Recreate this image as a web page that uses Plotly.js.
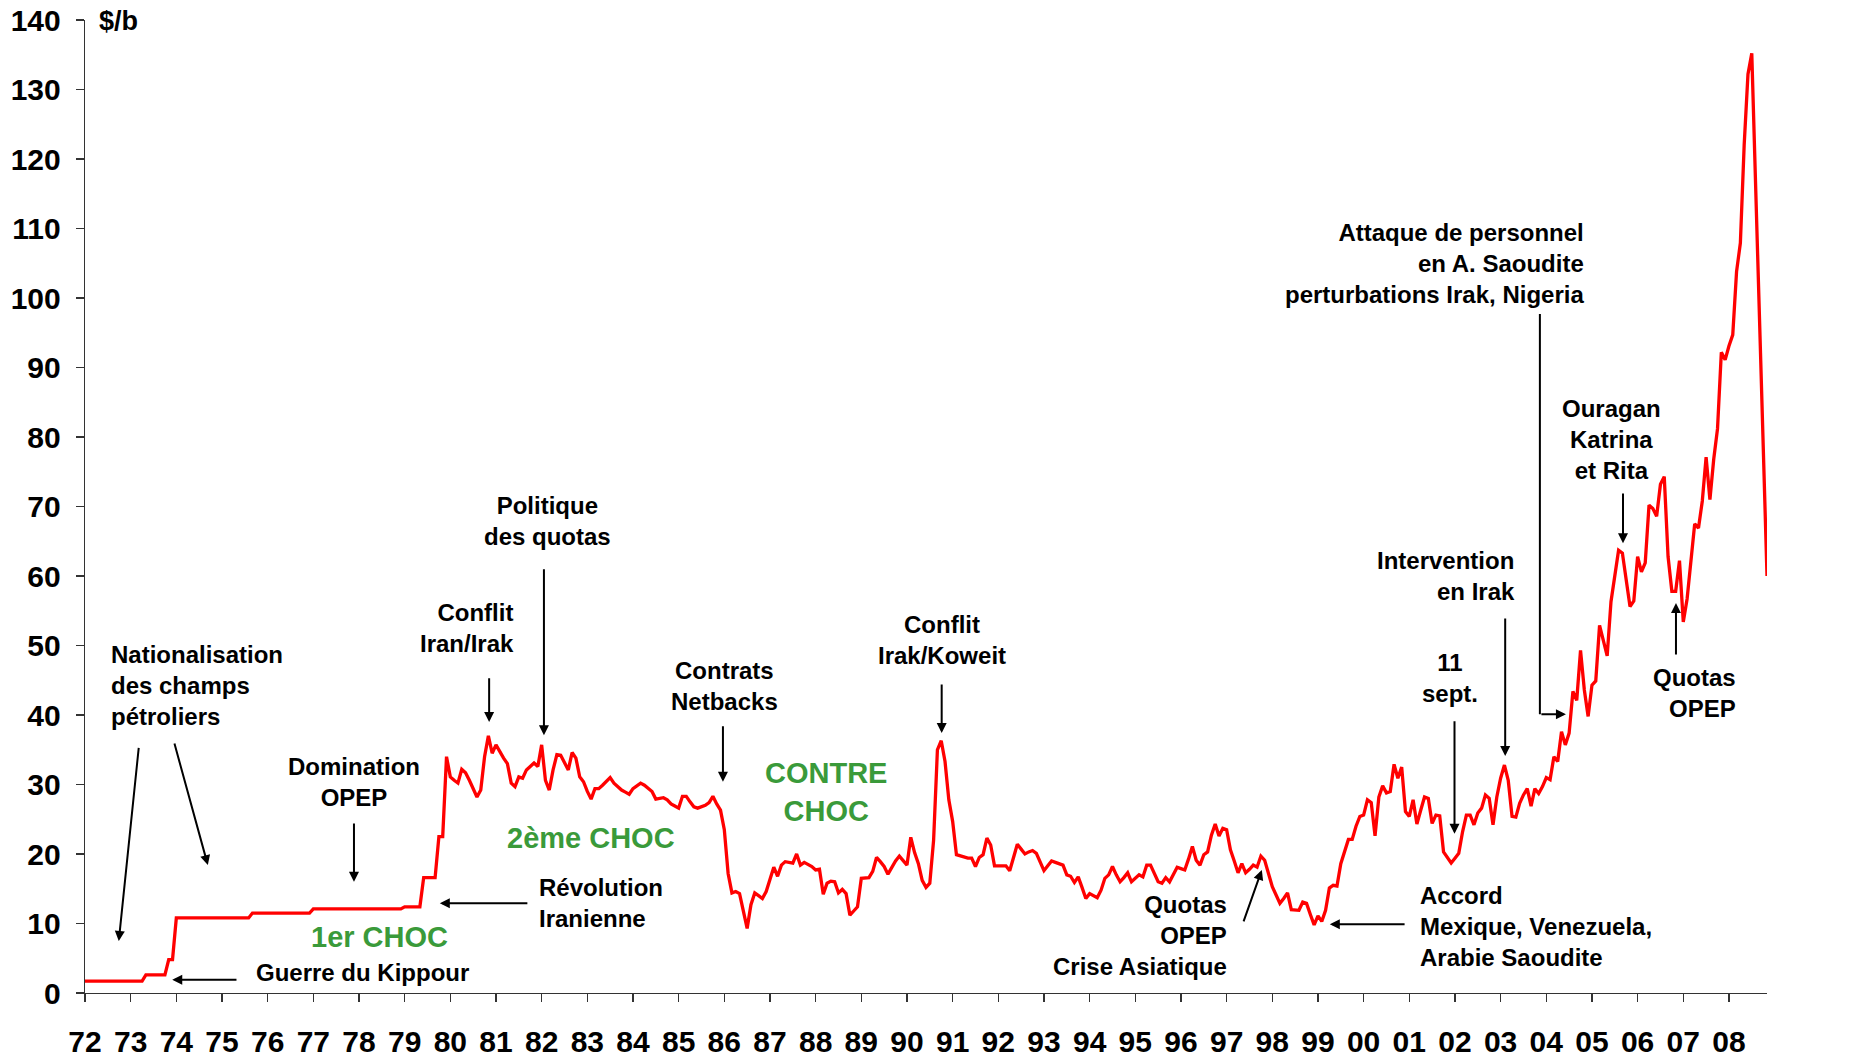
<!DOCTYPE html>
<html>
<head>
<meta charset="utf-8">
<script src="https://cdn.plot.ly/plotly-3.0.1.min.js"></script>
<style>html,body{margin:0;padding:0;background:#fff;}#chart{width:1851px;height:1057px;}</style>
</head>
<body>
<div id="chart"></div>
<script>
// Monthly oil price ($/b), January to December of each year
const p1972 = [1.7,1.7,1.7,1.7,1.7,1.7,1.7,1.7,1.7,1.7,1.7,1.7];
const p1973 = [1.7,1.7,1.7,1.7,2.6,2.6,2.6,2.6,2.6,2.6,4.8,4.8];
const p1974 = [10.8,10.8,10.8,10.8,10.8,10.8,10.8,10.8,10.8,10.8,10.8,10.8];
const p1975 = [10.8,10.8,10.8,10.8,10.8,10.8,10.8,10.8,11.5,11.5,11.5,11.5];
const p1976 = [11.5,11.5,11.5,11.5,11.5,11.5,11.5,11.5,11.5,11.5,11.5,11.5];
const p1977 = [12.1,12.1,12.1,12.1,12.1,12.1,12.1,12.1,12.1,12.1,12.1,12.1];
const p1978 = [12.1,12.1,12.1,12.1,12.1,12.1,12.1,12.1,12.1,12.1,12.1,12.1];
const p1979 = [12.4,12.4,12.4,12.4,12.4,16.6,16.6,16.6,16.6,22.5,22.5,34.0];
const p1980 = [31.1,30.6,30.2,32.2,31.7,30.6,29.4,28.2,29.2,34.0,37.0,34.5];
const p1981 = [35.7,34.7,33.8,33.0,30.2,29.7,31.1,30.9,32.1,32.6,33.1,32.6];
const p1982 = [35.7,30.6,29.2,32.1,34.3,34.2,33.2,32.1,34.6,33.8,31.1,30.4];
const p1983 = [29.0,27.9,29.4,29.4,29.9,30.5,31.0,30.2,29.7,29.2,28.9,28.6];
const p1984 = [29.4,29.8,30.2,29.9,29.4,29.0,27.9,28.0,28.1,27.8,27.2,26.9];
const p1985 = [26.6,28.3,28.3,27.5,26.8,26.6,26.8,27.0,27.4,28.3,27.2,26.3];
const p1986 = [23.5,17.2,14.4,14.6,14.3,12.0,9.3,12.7,14.4,14.0,13.6,14.6];
const p1987 = [16.5,18.1,16.8,18.4,18.9,18.8,18.7,20.0,18.4,18.8,18.5,18.2];
const p1988 = [17.7,17.8,14.2,15.8,16.1,16.0,14.4,14.9,14.3,11.2,11.8,12.4];
const p1989 = [16.5,16.5,16.6,17.5,19.5,18.9,18.2,17.1,18.1,19.0,19.7,19.0];
const p1990 = [18.4,22.4,20.2,18.6,16.2,15.2,15.8,22.0,35.0,36.3,33.3,27.8];
const p1991 = [24.7,19.9,19.7,19.5,19.4,19.4,18.2,19.5,19.9,22.3,21.3,18.3];
const p1992 = [18.3,18.3,18.3,17.6,19.5,21.4,20.7,20.0,20.3,20.5,20.1,18.8];
const p1993 = [17.6,18.3,19.0,18.8,18.6,18.4,17.0,16.8,15.9,16.7,15.2,13.6];
const p1994 = [14.3,14.0,13.7,14.8,16.5,17.0,18.2,17.0,16.0,16.6,17.3,16.0];
const p1995 = [16.5,17.0,16.7,18.4,18.4,17.2,16.0,15.8,16.6,16.0,17.0,18.1];
const p1996 = [17.9,17.7,19.3,21.1,19.1,18.4,19.9,20.3,22.7,24.3,22.6,23.7];
const p1997 = [23.5,20.6,19.0,17.3,18.6,17.3,17.8,18.4,18.1,19.7,19.1,17.2];
const p1998 = [15.3,14.1,12.9,13.6,14.4,12.0,11.9,11.9,13.1,12.9,11.3,9.8];
const p1999 = [11.1,10.3,11.9,15.1,15.5,15.4,18.6,20.2,22.1,22.1,24.0,25.4];
const p2000 = [25.6,27.8,27.4,22.6,28.2,29.8,28.8,29.0,32.9,30.9,32.5,26.1];
const p2001 = [25.4,27.8,24.3,26.3,28.2,28.0,24.4,25.6,25.5,20.3,19.4,18.7];
const p2002 = [19.4,20.1,23.2,25.6,25.6,24.2,25.9,26.6,28.5,28.0,24.2,28.2];
const p2003 = [30.9,32.8,30.6,25.4,25.3,27.3,28.5,29.4,26.9,29.4,28.7,29.7];
const p2004 = [31.0,30.7,34.0,33.3,37.6,35.7,37.4,43.4,42.1,49.3,43.6,39.8];
const p2005 = [44.3,44.9,52.9,50.7,48.5,56.3,59.9,63.7,63.3,59.0,55.6,56.4];
const p2006 = [62.8,60.6,61.9,70.2,69.7,68.6,73.2,74.3,62.8,57.8,57.8,62.2];
const p2007 = [53.4,56.7,62.2,67.5,66.9,70.8,77.1,71.0,76.8,81.2,92.2,91.1];
const p2008 = [93.1,94.7,103.8,107.9,122.0,132.2,135.2,116.0,97.0,78.0,60.0];

const years = [1972,1973,1974,1975,1976,1977,1978,1979,1980,1981,1982,1983,1984,1985,1986,1987,1988,1989,
  1990,1991,1992,1993,1994,1995,1996,1997,1998,1999,2000,2001,2002,2003,2004,2005,2006,2007,2008];
const yearData = [p1972,p1973,p1974,p1975,p1976,p1977,p1978,p1979,p1980,p1981,p1982,p1983,p1984,p1985,p1986,p1987,p1988,p1989,
  p1990,p1991,p1992,p1993,p1994,p1995,p1996,p1997,p1998,p1999,p2000,p2001,p2002,p2003,p2004,p2005,p2006,p2007,p2008];
const tickLabels = ['72','73','74','75','76','77','78','79','80','81','82','83','84','85','86','87','88','89',
  '90','91','92','93','94','95','96','97','98','99','00','01','02','03','04','05','06','07','08'];
const yTicks = [0,10,20,30,40,50,60,70,80,90,100,110,120,130,140];

const xs = [], ys = [];
years.forEach((yr, i) => {
  yearData[i].forEach((v, m) => { xs.push(yr + m / 12); ys.push(v); });
});
const xEnd = xs[xs.length - 1];

const FONT = 'Liberation Sans, Arial, Helvetica, sans-serif';
const GREEN = '#3a9a3a';

function txt(x, y, text, xanchor, opts) {
  opts = opts || {};
  return {
    x: x, y: y, xref: 'x', yref: 'y', text: text, showarrow: false,
    xanchor: xanchor, yanchor: 'middle', align: xanchor === 'middle' ? 'center' : xanchor,
    font: {family: FONT, size: opts.size || 24, color: opts.color || '#000'}
  };
}
function arrow(x, y, ax, ay) {
  return {
    x: x, y: y, ax: ax, ay: ay, xref: 'x', yref: 'y', axref: 'x', ayref: 'y',
    text: '', showarrow: true, arrowhead: 2, arrowsize: 1.0, arrowwidth: 2,
    arrowcolor: '#000', standoff: 0, startstandoff: 0
  };
}

const annotations = [
  txt(1972.26, 139.9, '<b>$/b</b>', 'left', {size: 27}),
  txt(1972.53, 44.2, '<b>Nationalisation<br>des champs<br>pétroliers</b>', 'left'),
  arrow(1972.74, 7.5, 1973.18, 35.5),
  arrow(1974.69, 18.4, 1973.95, 36.1),
  txt(1977.89, 30.3, '<b>Domination<br>OPEP</b>', 'center'),
  arrow(1977.89, 16.0, 1977.89, 24.6),
  txt(1978.44, 8.06, '<b>1er CHOC</b>', 'center', {size: 29, color: GREEN}),
  txt(1975.70, 2.9, '<b>Guerre du Kippour</b>', 'left'),
  arrow(1973.91, 1.9, 1975.35, 1.9),
  txt(1981.90, 12.95, '<b>Révolution<br>Iranienne</b>', 'left'),
  arrow(1979.77, 12.9, 1981.72, 12.9),
  txt(1981.44, 52.5, '<b>Conflit<br>Iran/Irak</b>', 'right'),
  arrow(1980.85, 39.0, 1980.85, 45.5),
  txt(1982.12, 67.9, '<b>Politique<br>des quotas</b>', 'center'),
  arrow(1982.05, 37.1, 1982.05, 61.2),
  txt(1983.08, 22.3, '<b>2ème CHOC</b>', 'center', {size: 29, color: GREEN}),
  txt(1986.01, 44.2, '<b>Contrats<br>Netbacks</b>', 'center'),
  arrow(1985.97, 30.4, 1985.97, 38.6),
  txt(1988.23, 28.9, '<b>CONTRE<br>CHOC</b>', 'center', {size: 29, color: GREEN}),
  txt(1990.77, 50.8, '<b>Conflit<br>Irak/Koweit</b>', 'center'),
  arrow(1990.76, 37.4, 1990.76, 44.6),
  txt(1997.05, 8.3, '<b>Quotas<br>OPEP<br>Crise Asiatique</b>', 'right'),
  arrow(1997.77, 17.7, 1997.36, 10.1),
  txt(2001.19, 9.6, '<b>Accord<br>Mexique, Venezuela,<br>Arabie Saoudite</b>', 'left'),
  arrow(1999.26, 9.9, 2000.93, 9.9),
  txt(2001.89, 45.3, '<b>11<br>sept.</b>', 'center'),
  arrow(2001.99, 22.9, 2001.99, 39.3),
  txt(2003.36, 60.0, '<b>Intervention<br>en Irak</b>', 'right'),
  arrow(2003.10, 34.1, 2003.10, 54.1),
  txt(2004.87, 105.0, '<b>Attaque de personnel<br>en A. Saoudite<br>perturbations Irak, Nigeria</b>', 'right'),
  arrow(2004.43, 40.1, 2003.86, 40.1),
  txt(2005.43, 79.7, '<b>Ouragan<br>Katrina<br>et Rita</b>', 'center'),
  arrow(2005.68, 64.7, 2005.68, 72.1),
  txt(2008.20, 43.2, '<b>Quotas<br>OPEP</b>', 'right'),
  arrow(2006.84, 56.1, 2006.84, 48.5),
  txt(2009.12, 102.8, '<b>Crise<br>éco</b>', 'left')
];

const shapes = [
  {type: 'line', xref: 'x', yref: 'y', x0: 2003.86, x1: 2003.86, y0: 97.7, y1: 40.1,
   line: {color: '#000', width: 2}}
];

const trace = {
  x: xs, y: ys, type: 'scatter', mode: 'lines',
  line: {color: '#ff0000', width: 3.3, shape: 'linear'},
  hoverinfo: 'skip', cliponaxis: false
};

const layout = {
  width: 1851, height: 1057,
  margin: {l: 85, r: 84, t: 20, b: 64, pad: 0},
  paper_bgcolor: '#fff', plot_bgcolor: '#fff',
  showlegend: false,
  xaxis: {
    range: [1972, xEnd], tickvals: years, ticktext: tickLabels, tickmode: 'array',
    showgrid: false, zeroline: false, showline: true, linecolor: '#333', linewidth: 1.3,
    ticks: 'outside', ticklen: 8, tickcolor: '#333', tickwidth: 1.3,
    ticklabelstandoff: 14,
    tickfont: {family: FONT, size: 30, color: '#000', weight: 'bold'}
  },
  yaxis: {
    range: [0, 140], tickvals: yTicks,
    showgrid: false, zeroline: false, showline: true, linecolor: '#333', linewidth: 1.3,
    ticks: 'outside', ticklen: 8, tickcolor: '#333', tickwidth: 1.3,
    ticklabelstandoff: 9,
    tickfont: {family: FONT, size: 30, color: '#000', weight: 'bold'}
  },
  annotations: annotations,
  shapes: shapes
};

Plotly.newPlot('chart', [trace], layout, {displayModeBar: false, staticPlot: true});
</script>
</body>
</html>
